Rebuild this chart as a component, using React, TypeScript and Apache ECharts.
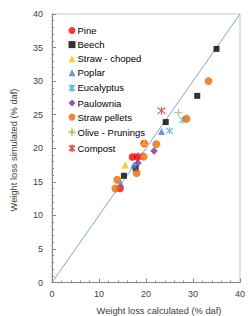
import React, { useEffect, useRef } from "react";
import * as echarts from "echarts";

const xTicks = [0, 10, 20, 30, 40];
const yTicks = [0, 5, 10, 15, 20, 25, 30, 35, 40];

const pine = [[19.6, 20.7], [17.1, 18.7], [18.2, 18.7], [14.5, 14.0]];
const beech = [[35.0, 34.8], [30.9, 27.8], [24.2, 23.9], [17.8, 17.0], [15.3, 15.9]];
const strawChoped = [[19.6, 20.9], [15.6, 17.5]];
const poplar = [[23.3, 22.5], [17.4, 17.5], [14.6, 14.8]];
const eucalyptus = [[25.0, 22.6], [27.8, 24.2]];
const paulownia = [[21.7, 19.6], [18.3, 17.8]];
const strawPellets = [[33.3, 30.0], [28.6, 24.4], [22.2, 20.6], [19.5, 18.75], [18.0, 16.3], [13.9, 15.3], [13.5, 14.0]];
const olivePrunings = [[26.9, 25.3]];
const compost = [[23.3, 25.6], [18.3, 18.8]];
const parity = [[0, 0], [40, 40]];

const FONT = "Liberation Sans, Arial, sans-serif";
const STAR = "path://M1,1L9,9M9,1L1,9M5,0L5,10";
const PLUS = "path://M5,0L5,10M0,5L10,5";

export default function App() {
  const ref = useRef<HTMLDivElement>(null);
  useEffect(() => {
    const chart = echarts.init(ref.current!, undefined, { renderer: "svg" });
    const sc = (name: string, data: number[][], symbol: string, size: number, color: string, stroke = false) => ({
      name,
      type: "scatter",
      data,
      symbol,
      symbolSize: size,
      z: 3,
      itemStyle: stroke
        ? { color: "none", borderColor: color, borderWidth: 1.2 }
        : { color },
    });
    chart.setOption({
      animation: false,
      grid: { left: 52, right: 6, top: 14, bottom: 33.5, show: true, borderColor: "#c8c8c8", borderWidth: 1 },
      xAxis: {
        type: "value",
        min: 0,
        max: 40,
        interval: 10,
        axisLine: { lineStyle: { color: "#868686", width: 1 } },
        axisTick: { inside: true, length: 4, lineStyle: { color: "#868686" } },
        minorTick: { show: true, splitNumber: 5, length: 2, lineStyle: { color: "#868686" } },
        splitLine: { show: false },
        axisLabel: { fontFamily: FONT, fontSize: 9, color: "#404040", margin: 7,
          formatter: (v: number) => (xTicks.includes(v) ? String(v) : "") },
      },
      yAxis: {
        type: "value",
        min: 0,
        max: 40,
        interval: 5,
        axisLine: { show: true, lineStyle: { color: "#868686", width: 1 } },
        axisTick: { show: true, inside: true, length: 4, lineStyle: { color: "#868686" } },
        minorTick: { show: true, splitNumber: 5, length: 2, lineStyle: { color: "#868686" } },
        splitLine: { show: false },
        axisLabel: { fontFamily: FONT, fontSize: 9, color: "#404040", margin: 9,
          formatter: (v: number) => (yTicks.includes(v) ? String(v) : "") },
      },
      legend: {
        orient: "vertical",
        left: 61,
        top: 20.5,
        itemWidth: 7,
        itemHeight: 7,
        itemGap: 4.1,
        textStyle: { fontFamily: FONT, fontSize: 9.5, color: "#000", lineHeight: 10, padding: [0, 0, 0, -3] },
        data: ["Pine", "Beech", "Straw - choped", "Poplar", "Eucalyptus", "Paulownia", "Straw pellets", "Olive - Prunings", "Compost"],
      },
      graphic: [
        { type: "text", x: 159, y: 311, style: { text: "Weight loss calculated (% daf)", fontFamily: FONT, fontSize: 9.3, fill: "#404040", align: "center", verticalAlign: "middle" } },
        { type: "text", x: 14, y: 150, rotation: Math.PI / 2, style: { text: "Weight loss simulated (% daf)", fontFamily: FONT, fontSize: 9.3, fill: "#404040", align: "center", verticalAlign: "middle" } },
      ],
      series: [
        { type: "line", data: parity, symbol: "none", z: 1, lineStyle: { color: "#6a9bd8", width: 0.9 }, silent: true },
        sc("Pine", pine, "circle", 7.5, "#ff0000"),
        sc("Beech", beech, "rect", 6, "#000000"),
        sc("Straw - choped", strawChoped, "triangle", 7.5, "#ffc000"),
        sc("Poplar", poplar, "triangle", 7, "#4a7ebb"),
        sc("Eucalyptus", eucalyptus, STAR, 7, "#4bacc6", true),
        sc("Paulownia", paulownia, "diamond", 7.5, "#7030a0"),
        sc("Straw pellets", strawPellets, "circle", 8, "#e46c0a"),
        sc("Olive - Prunings", olivePrunings, PLUS, 8, "#9bbb59", true),
        sc("Compost", compost, STAR, 8, "#d63434", true),
      ],
    });
    return () => chart.dispose();
  }, []);
  return <div ref={ref} style={{ width: 248, height: 316, position: "absolute", left: 0, top: 0 }} />;
}
